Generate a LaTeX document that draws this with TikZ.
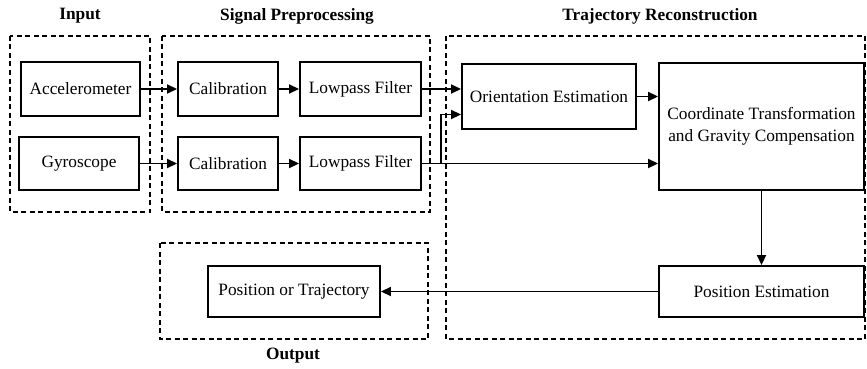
\documentclass[tikz,border=0pt]{standalone}
\usepackage{fontspec}
\setmainfont{Liberation Serif}
\usetikzlibrary{arrows.meta,calc}
\tikzset{
  blk/.style={draw, line width=1.9pt, align=center, inner sep=0pt, font=\fontsize{17.3}{22}\selectfont},
  grp/.style={draw, line width=1.3pt, dash pattern=on 5pt off 3.5pt},
  ttl/.style={font=\fontsize{17.3}{20}\selectfont\bfseries},
  arr/.style={line width=1.8pt, -{Triangle[length=10pt,width=9pt]}},
}
\begin{document}
\begin{tikzpicture}[x=1pt,y=-1pt]
\useasboundingbox (0,0) rectangle (867,369);
% group boxes
\draw[grp] (10,36) rectangle (150,212);
\draw[grp] (162,36) rectangle (430,212);
\draw[grp] (446,36) rectangle (865,339);
\draw[grp] (160,243) rectangle (428,339);
% titles
\node[ttl] (tin) at (80,16) {Input};
\node[ttl] (tsp) at (297,16) {Signal Preprocessing};
\node[ttl] (ttr) at (660,16) {Trajectory Reconstruction};
\node[ttl] (tout) at (293,356) {Output};
% blocks
\node[blk, minimum width=119pt, minimum height=54pt] (acc) at (80.5,89) {Accelerometer};
\node[blk, minimum width=120pt, minimum height=53pt] (gyr) at (79,163.5) {Gyroscope};
\node[blk, minimum width=100pt, minimum height=54pt] (cal1) at (228,89) {Calibration};
\node[blk, minimum width=100pt, minimum height=53pt] (cal2) at (228,163.5) {Calibration};
\node[blk, minimum width=121pt, minimum height=54pt] (lp1) at (360.5,89) {Lowpass Filter};
\node[blk, minimum width=121pt, minimum height=53pt] (lp2) at (360.5,163.5) {Lowpass Filter};
\node[blk, minimum width=174pt, minimum height=65pt] (ori) at (549,96.5) {Orientation Estimation};
\node[blk, minimum width=205pt, minimum height=127pt] (coo) at (761.5,126.5) {Coordinate Transformation\\and Gravity Compensation};
\node[blk, minimum width=205pt, minimum height=51pt] (pos) at (761.5,291.5) {Position Estimation};
\node[blk, minimum width=172pt, minimum height=51pt] (out) at (294,291.5) {Position or Trajectory};
% connectors
\draw[arr] (acc) -- (cal1);
\draw[arr] (gyr) -- (cal2);
\draw[arr] (cal1) -- (lp1);
\draw[arr] (cal2) -- (lp2);
\draw[arr] (lp1.east) -- (lp1.east -| ori.west);
\draw[arr] (lp2.east) -- (lp2.east -| coo.west);
\coordinate (br) at (441,163.5);
\coordinate (oin) at ($(ori.west)+(0,18)$);
\draw[arr] (br) |- (oin);
\draw[arr] (ori.east) -- (ori.east -| coo.west);
\draw[arr] (coo.south) -- (pos.north);
\draw[arr] (pos.west) -- (out.east);
\end{tikzpicture}
\end{document}
